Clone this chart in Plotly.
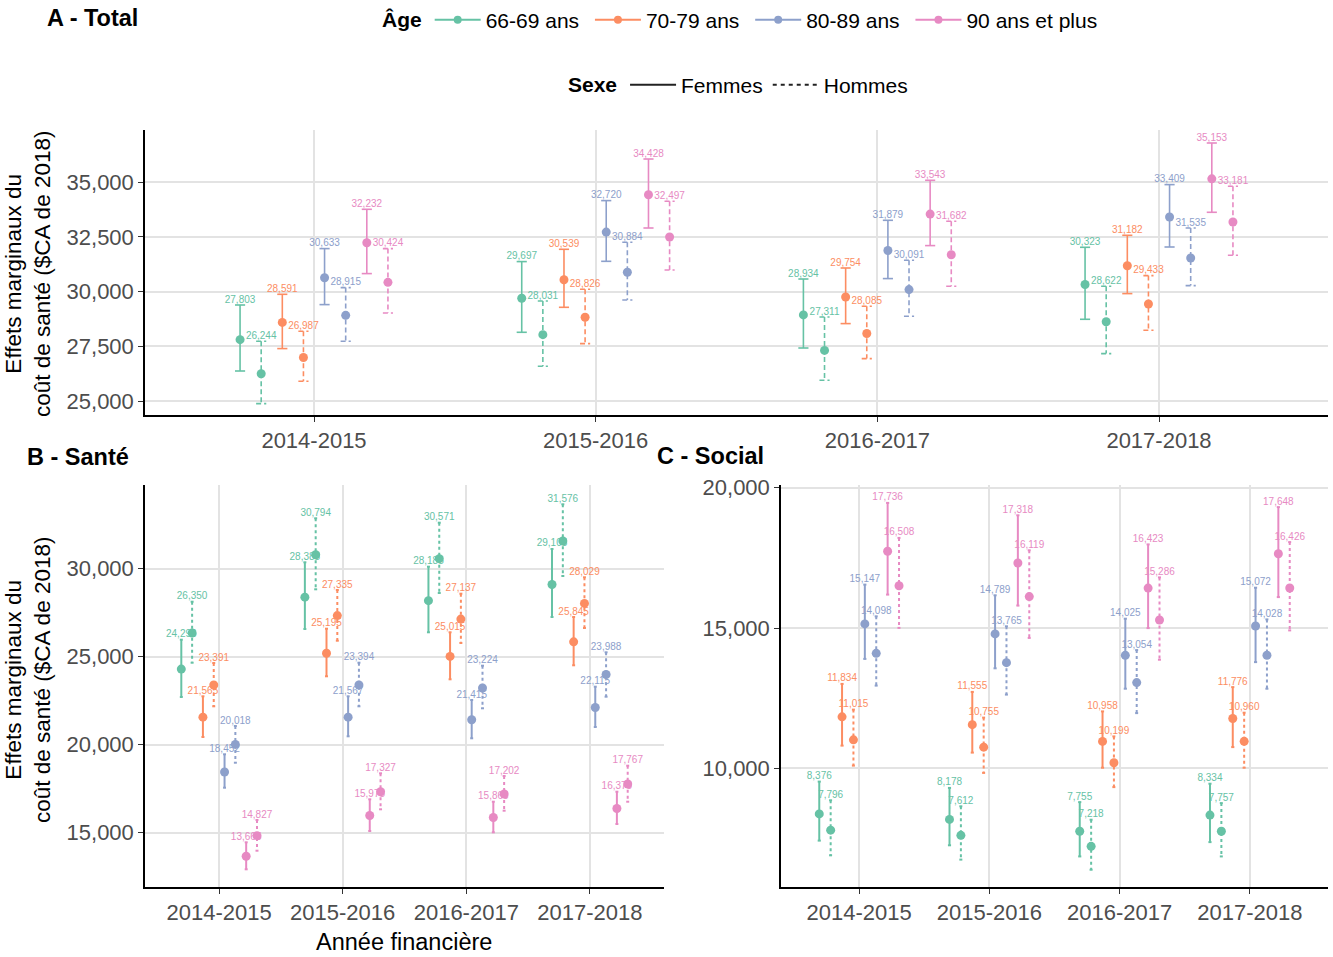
import plotly.graph_objects as go

# ---------------- data ----------------
years = ["2014-2015", "2015-2016", "2016-2017", "2017-2018"]
ages = ["66-69 ans", "70-79 ans", "80-89 ans", "90 ans et plus"]
sexes = ["Femmes", "Hommes"]
age_colors = ["#66C2A5", "#FC8D62", "#8DA0CB", "#E78AC3"]

# Panel A - Total  (rows = age groups, columns = years)
A_fem_est = [[27803, 29697, 28934, 30323], [28591, 30539, 29754, 31182],
             [30633, 32720, 31879, 33409], [32232, 34428, 33543, 35153]]
A_fem_lo = [[26371, 28140, 27422, 28734], [27395, 29282, 28537, 29908],
            [29405, 31384, 30594, 32038], [30822, 32906, 32102, 33624]]
A_fem_hi = [[29387, 31371, 30575, 32024], [29876, 31933, 31078, 32572],
            [31965, 34158, 33258, 34889], [33761, 36059, 35086, 36791]]
A_hom_est = [[26244, 28031, 27311, 28622], [26987, 28826, 28085, 29433],
             [28915, 30884, 30091, 31535], [30424, 32497, 31682, 33181]]
A_hom_lo = [[24881, 26586, 25946, 27166], [25900, 27623, 26938, 28231],
            [27728, 29616, 28871, 30274], [29022, 30987, 30242, 31658]]
A_hom_hi = [[27728, 29570, 28839, 30242], [28185, 30105, 29328, 30731],
            [30182, 32253, 31430, 32906], [31965, 34126, 33212, 34812]]

# Panel B - Santé
B_fem_est = [[24296, 28385, 28185, 29105], [21565, 25195, 25015, 25845],
             [18452, 21567, 21415, 22115], [13665, 15975, 15865, 16375]]
B_fem_lo = [[22711, 26574, 26387, 27256], [20438, 23887, 23716, 24512],
            [17557, 20477, 20364, 21006], [12920, 15097, 15023, 15494]]
B_fem_hi = [[25966, 30364, 30114, 31120], [22750, 26591, 26387, 27256],
            [19455, 22750, 22540, 23296], [14455, 16898, 16761, 17330]]
B_hom_est = [[26350, 30794, 30571, 31576], [23391, 27335, 27137, 28029],
             [20018, 23394, 23224, 23988], [14827, 17327, 17202, 17767]]
B_hom_lo = [[24659, 28830, 28620, 29586], [22182, 25909, 25779, 26631],
            [18977, 22182, 22068, 22728], [13977, 16330, 16250, 16761]]
B_hom_hi = [[28125, 32864, 32614, 33660], [24642, 28790, 28580, 29512],
            [21063, 24659, 24489, 25250], [15722, 18375, 18222, 18807]]

# Panel C - Social
C_fem_est = [[8376, 8178, 7755, 8334], [11834, 11555, 10958, 11776],
             [15147, 14789, 14025, 15072], [17736, 17318, 16423, 17648]]
C_fem_lo = [[7423, 7256, 6860, 7370], [10809, 10560, 10021, 10756],
            [13899, 13564, 12837, 13785], [16191, 15799, 14997, 16102]]
C_fem_hi = [[9526, 9301, 8795, 9451], [13008, 12723, 12028, 12894],
            [16547, 16166, 15332, 16437], [19459, 19017, 17980, 19309]]
C_hom_est = [[7796, 7612, 7218, 7757], [11015, 10755, 10199, 10960],
             [14098, 13765, 13054, 14028], [16508, 16119, 15286, 16426]]
C_hom_lo = [[6899, 6746, 6386, 6860], [10096, 9836, 9330, 10021],
            [12947, 12627, 11967, 12837], [15004, 14647, 13870, 14915]]
C_hom_hi = [[8860, 8646, 8168, 8760], [12092, 11807, 11137, 11982],
            [15417, 15061, 14213, 15307], [18211, 17770, 16804, 18062]]

A_ticks = [25000, 27500, 30000, 32500, 35000]
B_ticks = [15000, 20000, 25000, 30000]
C_ticks = [10000, 15000, 20000]

# ---------------- figure ----------------
W, H = 1333, 957
FONT = "Liberation Sans, Arial, sans-serif"
fig = go.Figure()

panels = [
    dict(xa="x", ya="y", step=0.075, cap=0.018, lw=1.6, dash="5px,3px", msize=9,
         data=[(A_fem_est, A_fem_lo, A_fem_hi), (A_hom_est, A_hom_lo, A_hom_hi)]),
    dict(xa="x2", ya="y2", step=0.0875, cap=0.012, lw=2.0, dash="3px,3px", msize=9,
         data=[(B_fem_est, B_fem_lo, B_fem_hi), (B_hom_est, B_hom_lo, B_hom_hi)]),
    dict(xa="x3", ya="y3", step=0.0875, cap=0.012, lw=2.0, dash="3px,3px", msize=9,
         data=[(C_fem_est, C_fem_lo, C_fem_hi), (C_hom_est, C_hom_lo, C_hom_hi)]),
]

for p in panels:
    for a in range(len(ages)):
        for s in range(2):
            est, lo, hi = (p["data"][s][0][a], p["data"][s][1][a], p["data"][s][2][a])
            k = 2 * a + s
            xs = [i + (k - 3.5) * p["step"] for i in range(len(years))]
            ex, ey = [], []
            w = p["cap"]
            for x, l, h in zip(xs, lo, hi):
                ex += [x - w, x + w, None, x, x, None, x - w, x + w, None]
                ey += [h, h, None, h, l, None, l, l, None]
            col = age_colors[a]
            fig.add_trace(go.Scatter(
                x=ex, y=ey, mode="lines", xaxis=p["xa"], yaxis=p["ya"],
                line=dict(color=col, width=p["lw"], dash="solid" if s == 0 else p["dash"]),
                showlegend=False, hoverinfo="skip"))
            fig.add_trace(go.Scatter(
                x=xs, y=est, mode="markers", xaxis=p["xa"], yaxis=p["ya"],
                marker=dict(color=col, size=p["msize"]), showlegend=False,
                cliponaxis=False))
            fig.add_trace(go.Scatter(
                x=xs, y=hi, mode="text", xaxis=p["xa"], yaxis=p["ya"],
                text=[f"{v:,}" for v in est], textposition="top center",
                textfont=dict(color=col, size=10, family=FONT),
                showlegend=False, hoverinfo="skip", cliponaxis=False))

# legend entries (a trailing no-break space widens the spacing between entries)
for a, name in enumerate(ages):
    fig.add_trace(go.Scatter(x=[None], y=[None], mode="lines+markers",
                             name=name + "\u00a0",
                             line=dict(color=age_colors[a], width=2),
                             marker=dict(color=age_colors[a], size=8),
                             legend="legend"))
for s, name in enumerate(sexes):
    fig.add_trace(go.Scatter(x=[None], y=[None], mode="lines", name=name,
                             line=dict(color="#222222", width=2,
                                       dash="solid" if s == 0 else "4px,4px"),
                             legend="legend2"))

def px_x(v):
    return v / W

def px_y(v):
    return 1 - v / H

axis_common = dict(showline=True, linecolor="black", linewidth=1.5, mirror=False,
                   ticks="outside", ticklen=5, tickcolor="#333333", tickwidth=1.2,
                   showgrid=True, gridcolor="#E3E3E3", gridwidth=1.5, zeroline=False,
                   automargin=False,
                   tickfont=dict(size=22, color="#4D4D4D", family=FONT))

xcat = dict(tickmode="array", tickvals=list(range(len(years))), ticktext=years,
            range=[-0.6, len(years) - 0.4])

leg_common = dict(orientation="h", xref="container", yref="container",
                  xanchor="left", yanchor="middle", font=dict(size=21, family=FONT),
                  itemwidth=46, bgcolor="rgba(0,0,0,0)")

fig.update_layout(
    width=W, height=H, autosize=False,
    margin=dict(l=0, r=0, t=0, b=0, autoexpand=False),
    paper_bgcolor="white", plot_bgcolor="white",
    font=dict(family=FONT, color="black"),
    xaxis=dict(domain=[px_x(145), px_x(1328)], anchor="y", **xcat, **axis_common),
    yaxis=dict(domain=[px_y(415), px_y(130)], anchor="x", range=[24360, 37385],
               tickmode="array", tickvals=A_ticks, tickformat=",", **axis_common),
    xaxis2=dict(domain=[px_x(145), px_x(664)], anchor="y2", **xcat, **axis_common),
    yaxis2=dict(domain=[px_y(887), px_y(485)], anchor="x2", range=[11915, 34756],
                tickmode="array", tickvals=B_ticks, tickformat=",", **axis_common),
    xaxis3=dict(domain=[px_x(781), px_x(1328)], anchor="y3", **xcat, **axis_common),
    yaxis3=dict(domain=[px_y(887), px_y(485)], anchor="x3", range=[5770, 20097],
                tickmode="array", tickvals=C_ticks, tickformat=",", **axis_common),
    legend=dict(x=px_x(380), y=px_y(20),
                title=dict(text="<b>Âge</b>", side="left", font=dict(size=21)),
                **leg_common),
    legend2=dict(x=px_x(566), y=px_y(85),
                 title=dict(text="<b>Sexe</b>", side="left", font=dict(size=21)),
                 **leg_common),
)

ann = [
    dict(text="<b>A - Total</b>", x=px_x(45), y=px_y(18), xanchor="left", yanchor="middle",
         font=dict(size=23.5)),
    dict(text="<b>B - Santé</b>", x=px_x(25), y=px_y(457), xanchor="left", yanchor="middle",
         font=dict(size=23.5)),
    dict(text="<b>C - Social</b>", x=px_x(655), y=px_y(456), xanchor="left", yanchor="middle",
         font=dict(size=23.5)),
    dict(text="Effets marginaux du<br>coût de santé ($CA de 2018)", textangle=-90,
         x=px_x(28), y=px_y(274), xanchor="center", yanchor="middle", font=dict(size=22.5)),
    dict(text="Effets marginaux du<br>coût de santé ($CA de 2018)", textangle=-90,
         x=px_x(28), y=px_y(680), xanchor="center", yanchor="middle", font=dict(size=22.5)),
    dict(text="Année financière", x=px_x(404), y=px_y(942), xanchor="center",
         yanchor="middle", font=dict(size=23.5)),
]
for a_ in ann:
    a_.update(xref="paper", yref="paper", showarrow=False)
    a_["font"].update(family=FONT, color="black")
fig.update_layout(annotations=ann)

fig.write_html("out.html", config={"displayModeBar": False},
               post_script="document.body.style.margin='0';")
